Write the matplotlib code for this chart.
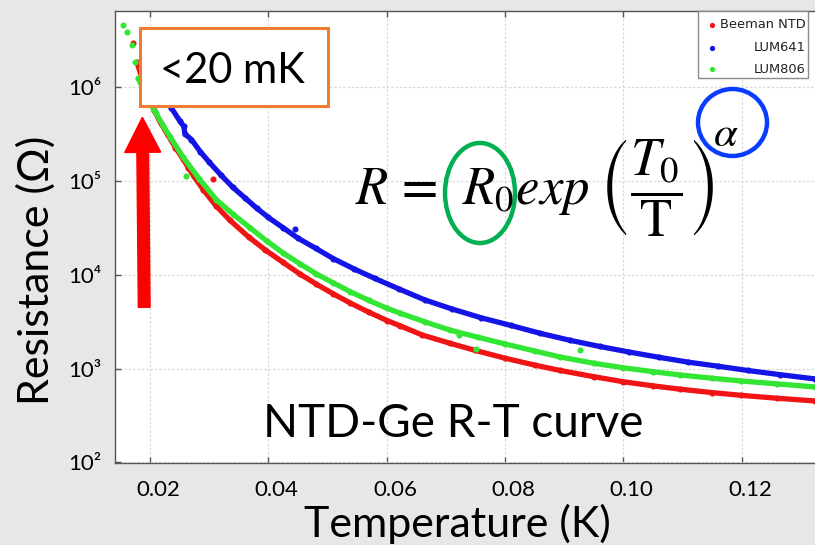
import matplotlib
matplotlib.use('Agg')
import matplotlib.pyplot as plt
from matplotlib.patches import Rectangle, Ellipse, FancyArrow
from matplotlib.lines import Line2D
from matplotlib.transforms import Affine2D, ScaledTranslation
from matplotlib.ticker import NullLocator

plt.rcParams['font.family'] = ['Lato', 'DejaVu Sans']
plt.rcParams['mathtext.fontset'] = 'stix'

# ---------------- data ----------------
beeman_T = [0.01713, 0.0178, 0.0190, 0.0207, 0.0218, 0.0230, 0.0243, 0.0256, 0.0265,
            0.0274, 0.0290, 0.0312, 0.0335, 0.0367, 0.0395, 0.0425, 0.0453, 0.0481,
            0.0510, 0.0538, 0.0570, 0.0601, 0.0623, 0.0660, 0.0707, 0.0750, 0.0800,
            0.0850, 0.0893, 0.0950, 0.1000, 0.1050, 0.1096, 0.1150, 0.1199, 0.1260,
            0.1324]
beeman_R = [2.95e6, 1.82e6, 1.05e6, 5.62e5, 4.12e5, 3.09e5, 2.26e5, 1.70e5, 1.37e5,
            1.12e5, 8.04e4, 5.37e4, 3.80e4, 2.51e4, 1.83e4, 1.35e4, 1.02e4, 7.94e3,
            6.24e3, 5.01e3, 3.98e3, 3.24e3, 2.85e3, 2.28e3, 1.86e3, 1.56e3, 1.29e3,
            1.09e3, 955, 820, 724, 655, 603, 555, 519, 483,
            452]
beeman_T_out = [0.0307]
beeman_R_out = [1.04e5]

lum641_T = [0.0203, 0.0220, 0.0236, 0.0250, 0.0257, 0.0259, 0.0270, 0.0285, 0.0300,
            0.0320, 0.0340, 0.0360, 0.0380, 0.0400, 0.0425, 0.0450, 0.0480, 0.0510,
            0.0545, 0.0580, 0.0620, 0.0665, 0.0710, 0.0760, 0.0810, 0.0860, 0.0910,
            0.0960, 0.1010, 0.1060, 0.1110, 0.1160, 0.1210, 0.1265, 0.1324]
lum641_R = [1.35e6, 8.91e5, 5.96e5, 4.37e5, 3.80e5, 3.16e5, 2.75e5, 2.04e5, 1.58e5,
            1.15e5, 8.51e4, 6.61e4, 5.13e4, 4.07e4, 3.16e4, 2.45e4, 1.91e4, 1.48e4,
            1.15e4, 9.12e3, 7.08e3, 5.37e3, 4.32e3, 3.47e3, 2.88e3, 2.37e3, 2.00e3,
            1.72e3, 1.50e3, 1.32e3, 1.17e3, 1.06e3, 955, 861, 776]
lum641_T_out = [0.0445]
lum641_R_out = [3.07e4]

lum806_T = [0.01544, 0.01611, 0.01696, 0.01746, 0.0180, 0.0195, 0.0210, 0.0222, 0.0234,
            0.0256, 0.0283, 0.0312, 0.0340, 0.0369, 0.0397, 0.0425, 0.0453, 0.0481,
            0.0510, 0.0538, 0.0570, 0.0601, 0.0623, 0.0665, 0.0707, 0.0755, 0.0800,
            0.0850, 0.0893, 0.0950, 0.1000, 0.1050, 0.1096, 0.1150, 0.1199, 0.1260,
            0.1324]
lum806_R = [4.57e6, 3.85e6, 2.79e6, 1.84e6, 1.23e6, 7.76e5, 5.25e5, 3.87e5, 2.93e5,
            1.78e5, 1.05e5, 6.31e4, 4.42e4, 3.16e4, 2.29e4, 1.70e4, 1.31e4, 1.02e4,
            8.17e3, 6.61e3, 5.32e3, 4.37e3, 3.89e3, 3.14e3, 2.57e3, 2.15e3, 1.83e3,
            1.54e3, 1.33e3, 1.14e3, 1.02e3, 927, 855, 789, 738, 687,
            637]
lum806_T_out = [0.0261, 0.0723, 0.0751, 0.0927]
lum806_R_out = [1.12e5, 2.28e3, 1.61e3, 1.58e3]

series_names = ['Beeman NTD', 'LUM641', 'LUM806']
series_colors = ['#f01414', '#1414e6', '#33e633']
# first point of the dense (continuous) part of each series
dense_start = [1, 0, 4]

xticks = [0.02, 0.04, 0.06, 0.08, 0.10, 0.12]
xtick_labels = ['0.02', '0.04', '0.06', '0.08', '0.10', '0.12']
yticks = [1e2, 1e3, 1e4, 1e5, 1e6]
ytick_labels = ['10²', '10³', '10⁴', '10⁵', '10⁶']
xlim = (0.01408, 0.1324)
ylim = (98.0, 6.43e6)

x_label = 'Temperature (K)'
y_label = 'Resistance (Ω)'
curve_title = 'NTD-Ge R-T curve'
box_text = '<20 mK'
formula = r'$R\,=\;\,R_0 exp\;\left(\dfrac{T_0}{\mathrm{T}}\right)$'
formula_exp = r'$\alpha$'

# ---------------- figure ----------------
W, H, DPI = 815, 545, 100
fig = plt.figure(figsize=(W / DPI, H / DPI), dpi=DPI)
fig.patch.set_facecolor('#e8e7e5')
# pixel transform, origin top-left
pix = Affine2D().scale(1 / DPI, -1 / DPI).translate(0, H / DPI) + fig.dpi_scale_trans

left, right, top, bottom = 115, 815, 11, 463.3
ax = fig.add_axes([left / W, 1 - bottom / H, (right - left) / W, (bottom - top) / H])
ax.set_facecolor('white')
ax.set_yscale('log')
ax.set_xlim(*xlim)
ax.set_ylim(*ylim)

data = [(beeman_T, beeman_R, beeman_T_out, beeman_R_out),
        (lum641_T, lum641_R, lum641_T_out, lum641_R_out),
        (lum806_T, lum806_R, lum806_T_out, lum806_R_out)]
for (t, r, to, ro), c, k in zip(data, series_colors, dense_start):
    ax.plot(t[k:], r[k:], '-', color=c, lw=3.8, solid_capstyle='round',
            solid_joinstyle='round', zorder=3)
    ax.plot(t, r, 'o', color=c, ms=4.4, mew=0, zorder=3)
    ax.plot(to, ro, 'o', color=c, ms=4.4, mew=0, zorder=3)

ax.set_xticks(xticks, labels=xtick_labels, fontsize=16)
ax.set_yticks(yticks, labels=ytick_labels, fontsize=16)
ax.yaxis.set_minor_locator(NullLocator())
ax.tick_params(direction='in', length=4, width=1, color='#555555', top=True)
ax.tick_params(axis='x', pad=12)
ax.tick_params(axis='y', pad=10)
for lab in ax.get_xticklabels():
    lab.set_transform(lab.get_transform() + ScaledTranslation(6 / 72, 0, fig.dpi_scale_trans))
ax.grid(True, which='major', color='#d9d9d9', lw=0.9, ls=(0, (2, 1.5)))
ax.set_axisbelow(True)
for s in ['left', 'bottom', 'top']:
    ax.spines[s].set_color('#555555')
    ax.spines[s].set_linewidth(1.0)
ax.spines['right'].set_visible(False)

# axis labels
fig.text(457, 537, x_label, transform=pix, fontsize=31, ha='center', va='baseline')
fig.text(36, 270, y_label, transform=pix, fontsize=31, ha='center', va='center', rotation=90)

# curve caption
fig.text(453.5, 436.7, curve_title, transform=pix, fontsize=33, ha='center', va='baseline')

# <20 mK box and arrow
fig.add_artist(Rectangle((140, 27.7), 188.3, 78.3, transform=pix, facecolor='white',
                         edgecolor='#ed7d31', lw=2.2, zorder=5))
fig.text(232.5, 83.3, box_text, transform=pix, fontsize=30, ha='center', va='baseline', zorder=6)
fig.add_artist(FancyArrow(144.2, 307.3, -1.8, -190, width=11.7, head_width=36, head_length=35,
                          length_includes_head=True, color='#ff0000', transform=pix, zorder=5))

# formula with circles
fig.text(355, 205, formula, transform=pix, fontsize=38, ha='left', va='baseline', zorder=6)
fig.text(726, 134, formula_exp, transform=pix, fontsize=31, ha='center', va='center', zorder=6)
fig.add_artist(Ellipse((480, 193), 70, 100, transform=pix, fill=False, edgecolor='#00b050',
                       lw=3.2, zorder=6))
fig.add_artist(Ellipse((732.5, 122.5), 69, 67, transform=pix, fill=False, edgecolor='#0a3cff',
                       lw=3.2, zorder=6))

# legend
fig.add_artist(Rectangle((698, 11), 110, 67, transform=pix, facecolor='white',
                         edgecolor='#8a8a8a', lw=1.0, zorder=5))
rows = [25, 47.7, 69.3]
for name, c, ry in zip(series_names, series_colors, rows):
    fig.add_artist(Line2D([712], [ry], marker='o', ms=3.8, mew=0, color=c, transform=pix, zorder=6))
    fig.text(806, ry, name, transform=pix, fontsize=9.4, ha='right', va='center',
             family='DejaVu Sans', color='#222222', zorder=6)

fig.savefig('out.png', dpi=DPI, facecolor=fig.get_facecolor())
